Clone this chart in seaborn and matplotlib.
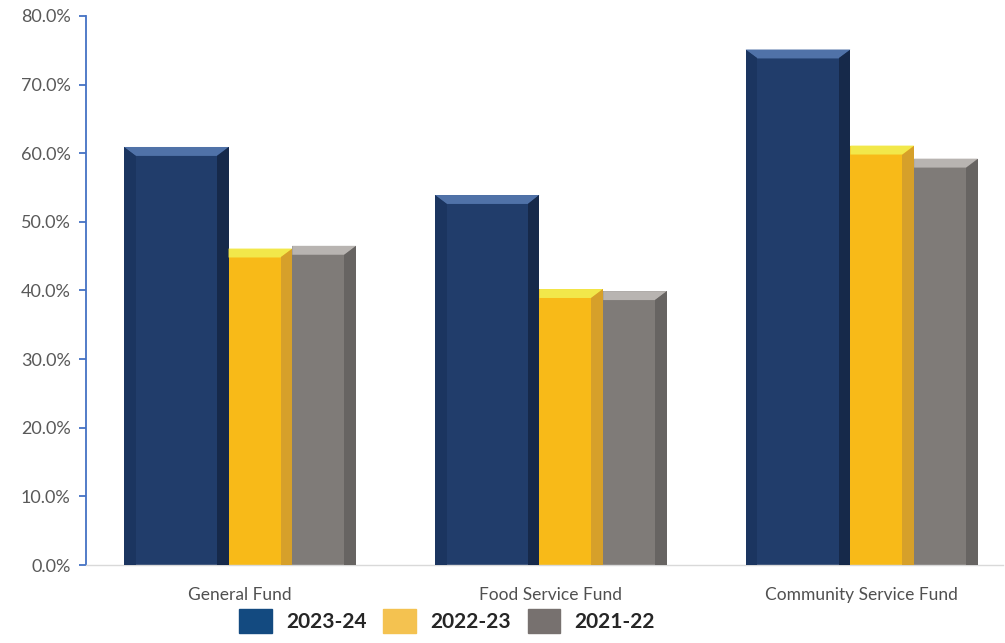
import matplotlib.pyplot as plt
import matplotlib.patches as mpatches
from matplotlib.patches import Polygon
from matplotlib.ticker import PercentFormatter
import pandas as pd
import seaborn as sns

# data
funds = ["General Fund", "Food Service Fund", "Community Service Fund"]
years = ["2023-24", "2022-23", "2021-22"]
pct_2023_24 = [60.9, 53.9, 75.1]
pct_2022_23 = [46.1, 40.2, 61.1]
pct_2021_22 = [46.5, 39.9, 59.2]

bar_colors = ["#213D6B", "#F8BA18", "#7F7B78"]
top_colors = ["#5072A8", "#F2E84A", "#B8B4B1"]
side_colors = ["#16294A", "#D6A02A", "#676462"]
legend_colors = ["#134A80", "#F4C250", "#77716F"]
# relative bar widths (category units), blue bar is wider in the original
bar_widths = [0.337, 0.205, 0.205]

df = pd.DataFrame({
    "fund": funds * 3,
    "year": [years[0]] * 3 + [years[1]] * 3 + [years[2]] * 3,
    "pct": pct_2023_24 + pct_2022_23 + pct_2021_22,
})

sns.set_style("white")
plt.rcParams["font.family"] = ["Lato", "DejaVu Sans"]

fig = plt.figure(figsize=(10.05, 6.43), dpi=100)
ax = fig.add_axes([0.0856, 0.1213, 0.912, 0.854])

sns.barplot(data=df, x="fund", y="pct", hue="year", hue_order=years,
            palette=bar_colors, order=funds, width=0.75, ax=ax,
            legend=False, saturation=1, linewidth=0)

# reshape bars so the first series is wider, keep group centred on category
group_w = sum(bar_widths)
for hi, bars in enumerate(ax.containers):
    for ci, p in enumerate(bars.patches):
        x0 = ci - group_w / 2 + sum(bar_widths[:hi])
        w = bar_widths[hi]
        p.set_x(x0)
        p.set_width(w)
        h = p.get_height()
        # simple bevel: light top strip, dark right side
        dt = 1.3
        dx = 0.038
        ax.add_patch(Polygon([(x0, h), (x0 + w, h), (x0 + w - dx, h - dt), (x0 + (dx if hi == 0 else 0), h - dt)],
                             closed=True, color=top_colors[hi], lw=0, zorder=3))
        ax.add_patch(Polygon([(x0 + w, h), (x0 + w, 0), (x0 + w - dx, 0), (x0 + w - dx, h - dt)],
                             closed=True, color=side_colors[hi], lw=0, zorder=3))
        if hi == 0:
            ax.add_patch(Polygon([(x0, h), (x0, 0), (x0 + dx, 0), (x0 + dx, h - dt)],
                                 closed=True, color="#1B3560", lw=0, zorder=3))

ax.set_xlim(-0.495, 2.453)
ax.set_ylim(0, 80)
ax.set_yticks(range(0, 81, 10))
ax.yaxis.set_major_formatter(PercentFormatter(decimals=1))
ax.set_xlabel("")
ax.set_ylabel("")

for s in ["top", "right"]:
    ax.spines[s].set_visible(False)
ax.spines["left"].set_color("#4472C4")
ax.spines["left"].set_linewidth(1.3)
ax.spines["bottom"].set_color("#D9D9D9")
ax.spines["bottom"].set_linewidth(1.0)
ax.tick_params(axis="y", left=True, length=5, width=1.3, color="#4472C4",
               labelsize=13, labelcolor="#595959", pad=6)
ax.tick_params(axis="x", bottom=False, labelsize=12.5, labelcolor="#505050", pad=12)

handles = [mpatches.Patch(color=c, label=y) for c, y in zip(legend_colors, years)]
fig.legend(handles=handles, loc="lower center", bbox_to_anchor=(0.445, -0.014), ncol=3,
           frameon=False, prop={"weight": "bold", "size": 15},
           handlelength=1.55, handleheight=1.45, columnspacing=0.8, handletextpad=0.7)

plt.savefig("out.png", dpi=100)
